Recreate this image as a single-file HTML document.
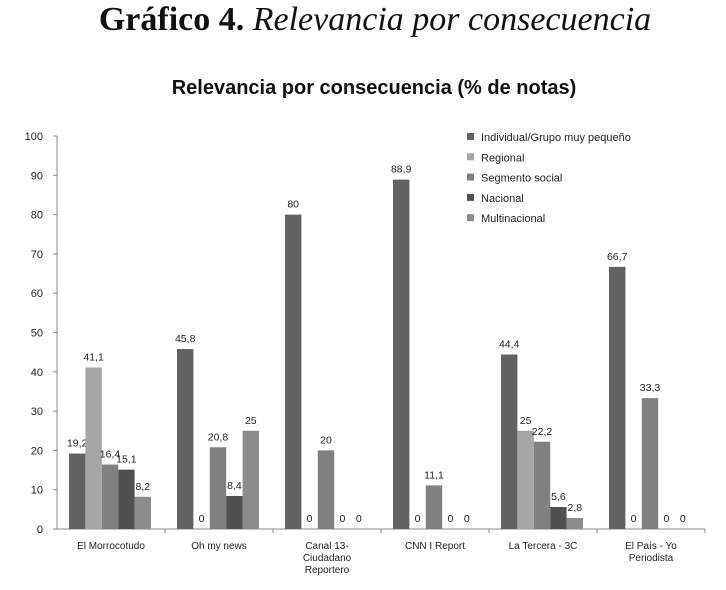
<!DOCTYPE html>
<html><head><meta charset="utf-8"><style>
body{margin:0;background:#fff;width:726px;height:590px;overflow:hidden}
svg{display:block}
</style></head><body>
<svg id="c" width="726" height="590" xmlns="http://www.w3.org/2000/svg">
<text x="375" y="30" text-anchor="middle" font-family="Liberation Serif, serif" font-size="34" fill="#111"><tspan font-weight="bold">Gráfico 4.</tspan><tspan font-style="italic"> Relevancia por consecuencia</tspan></text>
<text x="374" y="94" text-anchor="middle" font-family="Liberation Sans, sans-serif" font-size="20" font-weight="bold" fill="#111">Relevancia por consecuencia (% de notas)</text>
<g id="axes"></g><g id="bars"></g><g id="legend"></g>
</svg>
<script>
const categories=[["El Morrocotudo"],["Oh my news"],["Canal 13-","Ciudadano","Reportero"],["CNN I Report"],["La Tercera - 3C"],["El País - Yo","Periodista"]];
const seriesNames=["Individual/Grupo muy pequeño","Regional","Segmento social","Nacional","Multinacional"];
const s1=[19.2,45.8,80,88.9,44.4,66.7];
const s2=[41.1,0,0,0,25,0];
const s3=[16.4,20.8,20,11.1,22.2,33.3];
const s4=[15.1,8.4,0,0,5.6,0];
const s5=[8.2,25,0,0,2.8,0];
const labels1=["19,2","45,8","80","88,9","44,4","66,7"];
const labels2=["41,1","0","0","0","25","0"];
const labels3=["16,4","20,8","20","11,1","22,2","33,3"];
const labels4=["15,1","8,4","0","0","5,6","0"];
const labels5=["8,2","25","0","0","2,8","0"];
const yTicks=[0,10,20,30,40,50,60,70,80,90,100];
const colors=["#626262","#a6a6a6","#808080","#505050","#8c8c8c"];
const NS="http://www.w3.org/2000/svg";
const x0=57,x1=705,y0=529,y100=136;
const Y=v=>y0-(v/100)*(y0-y100);
const cw=(x1-x0)/categories.length;
const X=i=>x0+i*cw;
function mk(t,a,p){const e=document.createElementNS(NS,t);for(const k in a)e.setAttribute(k,a[k]);p.appendChild(e);return e;}
const ax=document.getElementById('axes');
const ya=mk('line',{x1:x0,y1:y100,x2:x0,y2:y0,stroke:'#888','stroke-width':1},ax);


const xa=mk('line',{x1:x0,y1:y0,x2:x1,y2:y0,stroke:'#888','stroke-width':1},ax);


yTicks.forEach(t=>{
  mk('line',{x1:x0-4,y1:Y(t),x2:x0,y2:Y(t),stroke:'#888'},ax);
  const tx=mk('text',{x:x0-14,y:Y(t)+4,'text-anchor':'end','font-family':'Liberation Sans, sans-serif','font-size':11,fill:'#222'},ax);
  tx.textContent=t;
  
  
});
categories.forEach((c,i)=>{
  mk('line',{x1:X(i+1),y1:y0,x2:X(i+1),y2:y0+4,stroke:'#888'},ax);
  c.forEach((ln,j)=>{
    const tx=mk('text',{x:X(i)+cw/2,y:y0+20+j*12,'text-anchor':'middle','font-family':'Liberation Sans, sans-serif','font-size':10,fill:'#222'},ax);
    tx.textContent=ln;
    
    
  });
});
const series=[s1,s2,s3,s4,s5],labs=[labels1,labels2,labels3,labels4,labels5];
const bg=document.getElementById('bars');
const bw=16.4,off=12;
series.forEach((s,k)=>{
  s.forEach((v,i)=>{
    const bx=X(i)+off+k*bw;
    if(v>0){
      const r=mk('rect',{x:bx,y:Y(v),width:bw,height:y0-Y(v),fill:colors[k]},bg);
      
      
    }
    const tx=mk('text',{x:bx+bw/2,y:Y(v)-7,'text-anchor':'middle','font-family':'Liberation Sans, sans-serif','font-size':10.5,fill:'#222'},bg);
    tx.textContent=labs[k][i];
    
    
  });
});
const lg=document.getElementById('legend');
seriesNames.forEach((n,k)=>{
  const yy=137+k*20.3;
  const r=mk('rect',{x:467,y:yy-4,width:7,height:7,fill:colors[k]},lg);
  
  
  const tx=mk('text',{x:481,y:yy+4,'font-family':'Liberation Sans, sans-serif','font-size':11,fill:'#222'},lg);
  tx.textContent=n;
  
  
});
</script>
</body></html>
